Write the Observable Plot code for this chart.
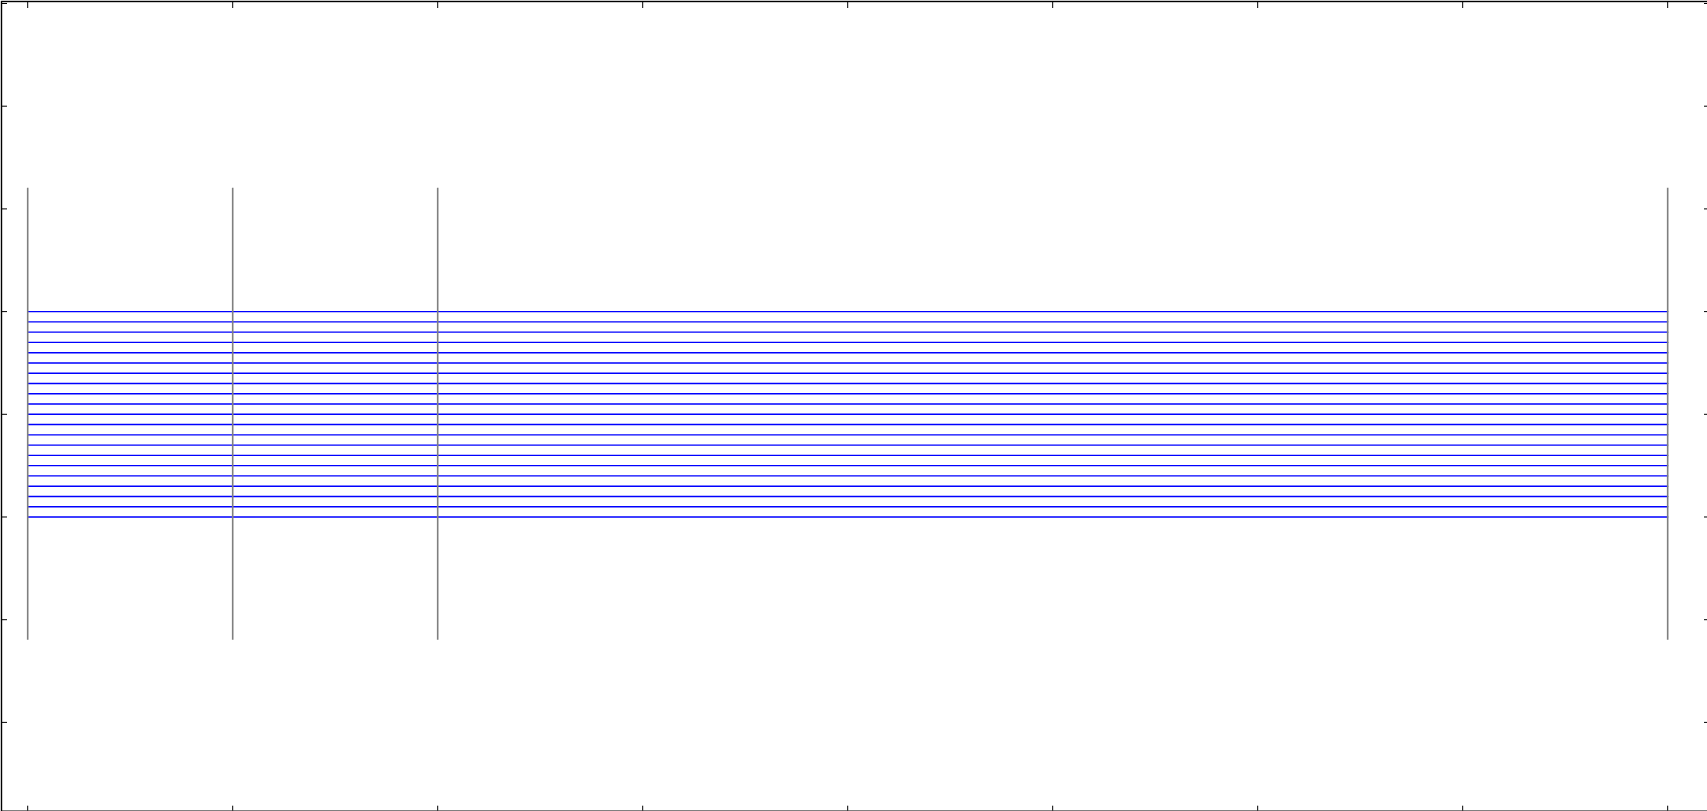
<!DOCTYPE html>
<html>
<head>
<meta charset="utf-8">
<script src="https://cdn.jsdelivr.net/npm/d3@7"></script>
<script src="https://cdn.jsdelivr.net/npm/@observablehq/plot@0.6"></script>
<style>
  html, body { margin: 0; padding: 0; background: #fff; overflow: hidden; width: 1707px; height: 811px; }
  #chart { width: 1707px; height: 811px; overflow: hidden; }
  #chart svg { display: block; max-width: none !important; width: 1710px !important; height: 812px !important; }
</style>
</head>
<body>
<div id="chart"></div>
<script>
// Positions of the parallel axes (dimensions) along x
const dimPositions = [0, 1, 2, 8];
// Constant value of each series (one horizontal polyline per series)
const seriesValues = [3.0, 3.1, 3.2, 3.3, 3.4, 3.5, 3.6, 3.7, 3.8, 3.9, 4.0,
                      4.1, 4.2, 4.3, 4.4, 4.5, 4.6, 4.7, 4.8, 4.9, 5.0];
// Vertical extent of each parallel axis
const axisExtent = [1.8, 6.2];
// Tick positions (no labels)
const xTicks = [0, 1, 2, 3, 4, 5, 6, 7, 8];
const yTicks = [1, 2, 3, 4, 5, 6, 7, 8];
const xDomain = [-0.1278, 8.204];
const yDomain = [0.1353, 8.0195];

const lineData = seriesValues.flatMap((v, i) =>
  dimPositions.map(d => ({x: d, y: v, s: i})));
const axisData = dimPositions.map(d => ({x: d, y1: axisExtent[0], y2: axisExtent[1]}));

const noLabel = () => "";

const chart = Plot.plot({
  width: 1710,
  height: 812,
  marginLeft: 1,
  marginRight: 1,
  marginTop: 1,
  marginBottom: 1.3,
  x: {domain: xDomain, axis: null},
  y: {domain: yDomain, axis: null},
  style: {background: "#fff"},
  marks: [
    Plot.line(lineData, {x: "x", y: "y", z: "s", stroke: "#0000ff", strokeWidth: 1.4}),
    Plot.ruleX(axisData, {x: "x", y1: "y1", y2: "y2", stroke: "#7f7f7f", strokeWidth: 1.6}),
    Plot.axisX(xTicks, {anchor: "top", tickSize: 6, dy: 6, tickFormat: noLabel, label: null, stroke: "#000"}),
    Plot.axisX(xTicks, {anchor: "bottom", tickSize: 5, dy: -5, tickFormat: noLabel, label: null, stroke: "#000"}),
    Plot.axisY(yTicks, {anchor: "left", tickSize: 6, dx: 6, tickFormat: noLabel, label: null, stroke: "#000"}),
    Plot.axisY(yTicks, {anchor: "right", tickSize: 6, dx: -6, tickFormat: noLabel, label: null, stroke: "#000"}),
    Plot.frame({stroke: "#000", strokeWidth: 1.4})
  ]
});
document.getElementById("chart").appendChild(chart);
</script>
</body>
</html>
